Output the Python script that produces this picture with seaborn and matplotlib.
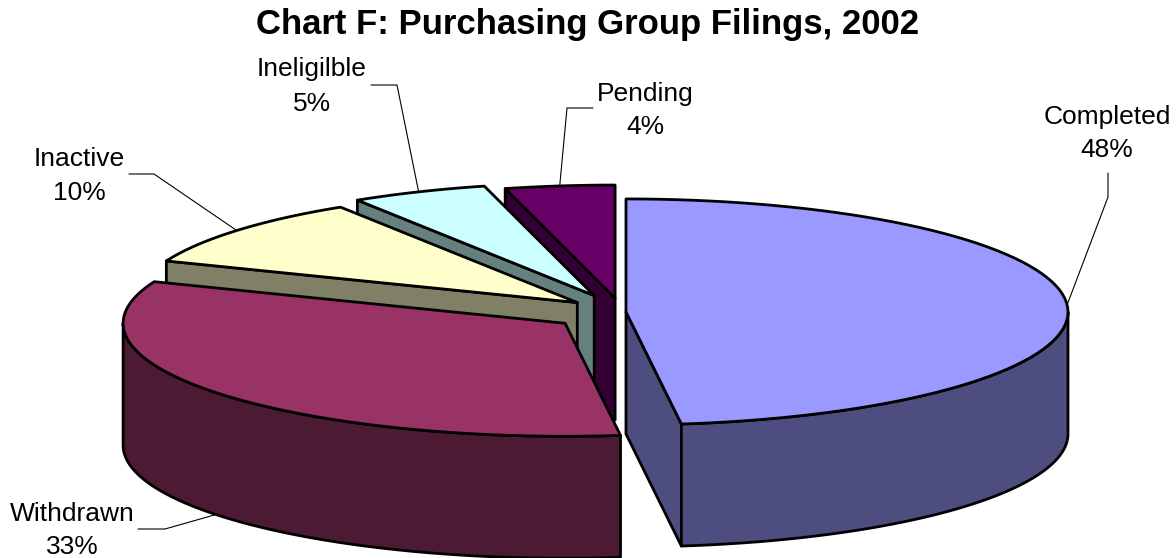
import numpy as np
import matplotlib
matplotlib.use("Agg")
import matplotlib.pyplot as plt
import seaborn as sns
from matplotlib.patches import Polygon

# ---- data ----
labels = ["Completed", "Withdrawn", "Inactive", "Ineligilble", "Pending"]
shares = [48, 33, 10, 5, 4]
top_colors = ["#9999FF", "#993366", "#FFFFCC", "#CCFFFF", "#660066"]
side_colors = ["#4D4D80", "#4D1A33", "#808066", "#668080", "#330033"]

sns.set_theme(style="white")
plt.rcParams['font.family'] = ['Liberation Sans', 'DejaVu Sans']

# ---- 3d pie geometry (pixel space) ----
CX, CY = 622, 312          # centre of the un-exploded top face
RX, RY = 442, 113          # ellipse radii of the top face
DEPTH = 122                # height of the pie
explode = [4, 72, 58, 70, 55]

# label placement: (x, baseline name, baseline pct) and leader start points
label_pos = [(1107, 124, 157), (72, 521, 554), (79, 166, 200), (312, 76, 111), (645, 101, 134)]
leader_pts = [[(1108, 173), (1108, 197)], [(138, 529), (165, 529)], [(129, 174), (154, 174)],
              [(371, 85), (397, 85)], [(593, 108), (567, 108)]]

fig = plt.figure(figsize=(11.76, 5.58), dpi=100)
ax = fig.add_axes([0, 0, 1, 1])
ax.set_xlim(0, 1176)
ax.set_ylim(558, 0)
ax.axis('off')


def pt(apex, th, z=0.0):
    t = np.radians(th)
    return (apex[0] + RX * np.cos(t), apex[1] - RY * np.sin(t) + z)


def arc(apex, a0, a1, z=0.0, n=80):
    return [pt(apex, t, z) for t in np.linspace(a0, a1, n)]


total = float(sum(shares))
starts, ends, apexes = [], [], []
acc = 0.0
for s, d in zip(shares, explode):
    a0 = 90 - 360 * acc / total
    a1 = a0 - 360 * s / total
    mid = np.radians((a0 + a1) / 2)
    apex = (CX + d * np.cos(mid), CY - d * (RY / RX) * np.sin(mid))
    starts.append(a0)
    ends.append(a1)
    apexes.append(apex)
    acc += s

# vertical faces, collected then painted back to front
faces = []
for i in range(len(shares)):
    a0, a1, apex = starts[i], ends[i], apexes[i]
    apex_b = (apex[0], apex[1] + DEPTH)
    # radial face at the start edge
    if np.cos(np.radians(a0)) < -1e-9:
        p, pb = pt(apex, a0), pt(apex, a0, DEPTH)
        faces.append(((apex[1] + p[1]) / 2, [apex, p, pb, apex_b], side_colors[i]))
    # radial face at the end edge
    if np.cos(np.radians(a1)) > 1e-9:
        p, pb = pt(apex, a1), pt(apex, a1, DEPTH)
        faces.append(((apex[1] + p[1]) / 2, [apex, p, pb, apex_b], side_colors[i]))
    # outer curved face (front half only)
    lo, hi = max(a1, -180), min(a0, 0)
    if lo < hi:
        top = arc(apex, hi, lo)
        bot = arc(apex, lo, hi, DEPTH)
        key = max(y for _, y in top)
        faces.append((key, top + bot, side_colors[i]))

for _, verts, col in sorted(faces, key=lambda f: f[0]):
    ax.add_patch(Polygon(verts, closed=True, facecolor=col, edgecolor='black',
                         linewidth=2, joinstyle='round'))

# top faces last: nothing sits above the top plane
for i in range(len(shares)):
    verts = [apexes[i]] + arc(apexes[i], starts[i], ends[i])
    ax.add_patch(Polygon(verts, closed=True, facecolor=top_colors[i], edgecolor='black',
                         linewidth=2, joinstyle='round'))

# labels and leader lines
for i, name in enumerate(labels):
    x, yb1, yb2 = label_pos[i]
    ax.text(x, yb1, name, ha='center', va='baseline', fontsize=19, color='black')
    ax.text(x, yb2, f"{shares[i]}%", ha='center', va='baseline', fontsize=19, color='black')
    mid = (starts[i] + ends[i]) / 2
    z = 0 if np.sin(np.radians(mid)) >= 0 else DEPTH
    end = pt(apexes[i], mid, z)
    pts = leader_pts[i] + [end]
    ax.plot([p[0] for p in pts], [p[1] for p in pts], color='black', linewidth=0.8)

ax.text(588, 34, "Chart F: Purchasing Group Filings, 2002", ha='center', va='baseline',
        fontsize=25, fontweight='bold', color='black')

fig.savefig("out.png", dpi=100, facecolor='white')
